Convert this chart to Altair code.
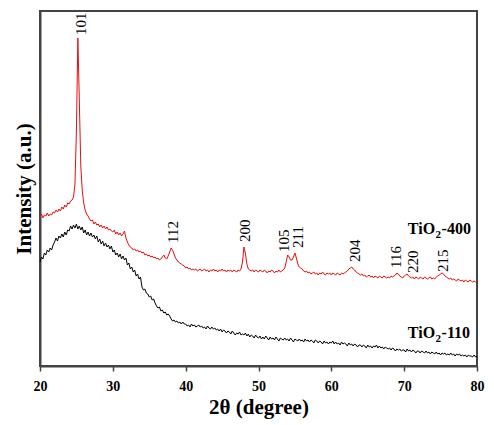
import altair as alt
import pandas as pd

# 2-theta sampling grid (degrees), 0.2 degree step from 20 to 80
two_theta = [round(20 + 0.2 * i, 1) for i in range(301)]

# TiO2-400 intensity (a.u.), rows of 2 degrees
tio2_400 = [
    149, 152, 148, 151, 150, 153, 150, 152, 151, 154,   # 20.0-21.8
    153, 156, 154, 157, 155, 159, 157, 161, 159, 163,   # 22.0-23.8
    162, 165, 166, 169, 182, 235, 328, 265, 200, 176,   # 24.0-25.8
    163, 156, 152, 150, 147, 145, 146, 142, 144, 141,   # 26.0-27.8
    142, 139, 141, 138, 140, 137, 139, 136, 137, 135,   # 28.0-29.8
    134, 136, 132, 134, 131, 133, 130, 132, 135, 128,   # 30.0-31.8
    124, 121, 119, 118, 116, 117, 115, 116, 114, 115,   # 32.0-33.8
    113, 114, 111, 112, 110, 111, 109, 110, 108, 109,   # 34.0-35.8
    107, 108, 106, 107, 109, 111, 108, 107, 110, 114,   # 36.0-37.8
    118, 116, 112, 108, 106, 104, 103, 102, 101, 100,   # 38.0-39.8
    98, 99, 97, 98, 96, 97, 96, 97, 95, 96,             # 40.0-41.8
    97, 95, 96, 97, 95, 96, 94, 96, 95, 97,             # 42.0-43.8
    95, 96, 94, 96, 95, 97, 95, 96, 94, 96,             # 44.0-45.8
    95, 96, 94, 96, 95, 94, 96, 95, 97, 104,            # 46.0-47.8
    119, 113, 102, 97, 96, 95, 96, 94, 96, 95,          # 48.0-49.8
    94, 96, 95, 94, 96, 95, 93, 95, 94, 96,             # 50.0-51.8
    95, 93, 95, 94, 96, 94, 95, 96, 98, 104,            # 52.0-53.8
    111, 109, 106, 106, 109, 113, 108, 102, 99, 98,     # 54.0-55.8
    97, 95, 94, 95, 93, 94, 92, 93, 94, 92,             # 56.0-57.8
    93, 91, 93, 92, 94, 92, 91, 93, 92, 93,             # 58.0-59.8
    91, 93, 92, 91, 93, 92, 91, 93, 92, 93,             # 60.0-61.8
    94, 95, 97, 98, 99, 97, 96, 94, 93, 92,             # 62.0-63.8
    91, 92, 90, 91, 89, 90, 91, 89, 90, 88,             # 64.0-65.8
    90, 89, 88, 90, 89, 88, 90, 89, 88, 89,             # 66.0-67.8
    88, 90, 89, 90, 91, 93, 92, 90, 89, 88,             # 68.0-69.8
    90, 91, 92, 90, 89, 88, 89, 87, 89, 88,             # 70.0-71.8
    87, 89, 88, 87, 89, 88, 87, 88, 89, 87,             # 72.0-73.8
    88, 87, 89, 90, 91, 92, 93, 92, 90, 89,             # 74.0-75.8
    88, 87, 88, 86, 87, 86, 85, 87, 86, 85,             # 76.0-77.8
    86, 84, 86, 85, 84, 86, 85, 84, 85, 84,             # 78.0-79.8
    85,                                                 # 80.0
]

# TiO2-110 intensity (a.u.)
tio2_110 = [
    104, 109, 107, 113, 111, 116, 114, 118, 116, 121,   # 20.0-21.8
    124, 128, 125, 130, 128, 132, 129, 134, 131, 136,   # 22.0-23.8
    135, 140, 137, 141, 138, 142, 137, 140, 136, 139,   # 24.0-25.8
    133, 136, 131, 134, 130, 133, 129, 131, 127, 130,   # 26.0-27.8
    124, 127, 122, 125, 120, 123, 119, 121, 117, 120,   # 28.0-29.8
    114, 116, 111, 113, 109, 112, 107, 110, 106, 108,   # 30.0-31.8
    101, 103, 97, 99, 94, 96, 90, 92, 87, 89,           # 32.0-33.8
    79, 76, 77, 73, 72, 69, 70, 66, 67, 63,             # 34.0-35.8
    60, 58, 59, 55, 56, 53, 54, 51, 52, 50,             # 36.0-37.8
    47, 45, 46, 44, 45, 43, 44, 42, 44, 42,             # 38.0-39.8
    42, 40, 41, 39, 42, 40, 41, 39, 40, 41,             # 40.0-41.8
    39, 40, 38, 39, 37, 40, 38, 37, 39, 37,             # 42.0-43.8
    38, 36, 37, 35, 37, 34, 36, 35, 33, 35,             # 44.0-45.8
    34, 32, 35, 33, 31, 33, 32, 34, 31, 32,             # 46.0-47.8
    31, 33, 30, 32, 29, 31, 30, 28, 31, 29,             # 48.0-49.8
    28, 30, 27, 29, 27, 30, 28, 26, 29, 27,             # 50.0-51.8
    28, 26, 29, 27, 25, 28, 27, 26, 28, 26,             # 52.0-53.8
    27, 25, 28, 26, 24, 27, 26, 25, 27, 25,             # 54.0-55.8
    26, 24, 27, 25, 26, 24, 26, 25, 23, 26,             # 56.0-57.8
    25, 23, 25, 24, 22, 25, 23, 24, 22, 24,             # 58.0-59.8
    23, 25, 22, 24, 22, 23, 21, 24, 22, 23,             # 60.0-61.8
    22, 20, 23, 21, 22, 20, 22, 21, 19, 21,             # 62.0-63.8
    21, 19, 21, 20, 18, 21, 19, 20, 18, 20,             # 64.0-65.8
    19, 21, 18, 20, 18, 19, 17, 19, 18, 17,             # 66.0-67.8
    18, 16, 18, 17, 15, 17, 16, 17, 15, 16,             # 68.0-69.8
    16, 14, 17, 15, 16, 14, 16, 15, 13, 15,             # 70.0-71.8
    15, 13, 15, 14, 13, 15, 13, 14, 12, 14,             # 72.0-73.8
    13, 12, 14, 12, 13, 11, 13, 12, 13, 11,             # 74.0-75.8
    12, 11, 13, 11, 12, 10, 12, 11, 12, 10,             # 76.0-77.8
    11, 10, 11, 9, 11, 10, 10, 9, 11, 9,                # 78.0-79.8
    10,                                                 # 80.0
]

# Peak (hkl) labels
peak_labels = ["101", "112", "200", "105", "211", "204", "116", "220", "215"]
peak_x = [25.6, 38.3, 48.1, 53.5, 55.4, 63.2, 68.9, 71.2, 75.3]
peak_y = [331, 123, 124, 114, 118, 104, 98, 93, 94]

# Series name labels: "TiO" + subscript "2" + suffix
series_names = ["TiO2-400", "TiO2-110"]
name_main = ["TiO", "TiO"]
name_sub = ["2", "2"]
name_suffix = ["-400", "-110"]
name_x = [74.25, 74.25]
name_y = [132, 28]
name_sub_y = [128, 24]

colors = ["#e60f0f", "#000000"]
FONT = "Liberation Serif, Times New Roman, serif"

df = pd.DataFrame({
    "x": two_theta * 2,
    "y": tio2_400 + tio2_110,
    "series": [series_names[0]] * len(two_theta) + [series_names[1]] * len(two_theta),
})
peaks = pd.DataFrame({"x": peak_x, "y": peak_y, "t": peak_labels})
names = pd.DataFrame({
    "x": name_x, "y": name_y, "ys": name_sub_y,
    "main": name_main, "sub": name_sub, "suf": name_suffix,
    "series": series_names,
})

xscale = alt.Scale(domain=[20, 80], nice=False)
yscale = alt.Scale(domain=[0, 355], nice=False)

lines = alt.Chart(df).mark_line(strokeWidth=1).encode(
    x=alt.X("x:Q", scale=xscale, title="2θ (degree)",
            axis=alt.Axis(values=list(range(20, 81, 5)),
                          labelExpr="datum.value % 10 === 0 ? datum.label : ''",
                          tickSize={"condition": {"test": "datum.value % 10 === 0", "value": 5}, "value": 3},
                          labelFlush=False,
                          grid=False)),
    y=alt.Y("y:Q", scale=yscale, title="Intensity (a.u.)",
            axis=alt.Axis(ticks=False, labels=False, grid=False)),
    color=alt.Color("series:N", scale=alt.Scale(domain=series_names, range=colors), legend=None),
    detail="series:N",
)

peak_text = alt.Chart(peaks).mark_text(
    angle=270, align="left", baseline="middle", font=FONT, fontSize=15, color="black"
).encode(x=alt.X("x:Q", scale=xscale), y=alt.Y("y:Q", scale=yscale), text="t:N")

main_text = alt.Chart(names).mark_text(
    align="right", baseline="alphabetic", font=FONT, fontSize=16, fontWeight="bold", color="black"
).encode(x=alt.X("x:Q", scale=xscale), y=alt.Y("y:Q", scale=yscale), text="main:N")

sub_text = alt.Chart(names).mark_text(
    align="left", baseline="alphabetic", font=FONT, fontSize=11, fontWeight="bold", color="black", dx=0.5
).encode(x=alt.X("x:Q", scale=xscale), y=alt.Y("ys:Q", scale=yscale), text="sub:N")

suf_text = alt.Chart(names).mark_text(
    align="left", baseline="alphabetic", font=FONT, fontSize=16, fontWeight="bold", color="black", dx=6.5
).encode(x=alt.X("x:Q", scale=xscale), y=alt.Y("y:Q", scale=yscale), text="suf:N")

chart = alt.layer(lines, peak_text, main_text, sub_text, suf_text).properties(
    width=437, height=355,
    padding={"left": 40, "top": 11, "right": 17, "bottom": 59},
    autosize=alt.AutoSizeParams(type="none"),
).configure_view(
    stroke="#444444", strokeWidth=2
).configure_axis(
    domainColor="#444444", domainWidth=2, tickColor="#444444", tickWidth=1.5,
    labelFont=FONT, labelFontSize=14, labelFontWeight="bold", labelColor="black",
    labelPadding=8,
    titleFont=FONT, titleFontSize=21, titleFontWeight="bold", titleColor="black",
).configure_axisX(
    titlePadding=3,
).configure_axisY(
    titlePadding=6,
)

chart.save("out.html", embed_options={"renderer": "svg", "actions": False})
